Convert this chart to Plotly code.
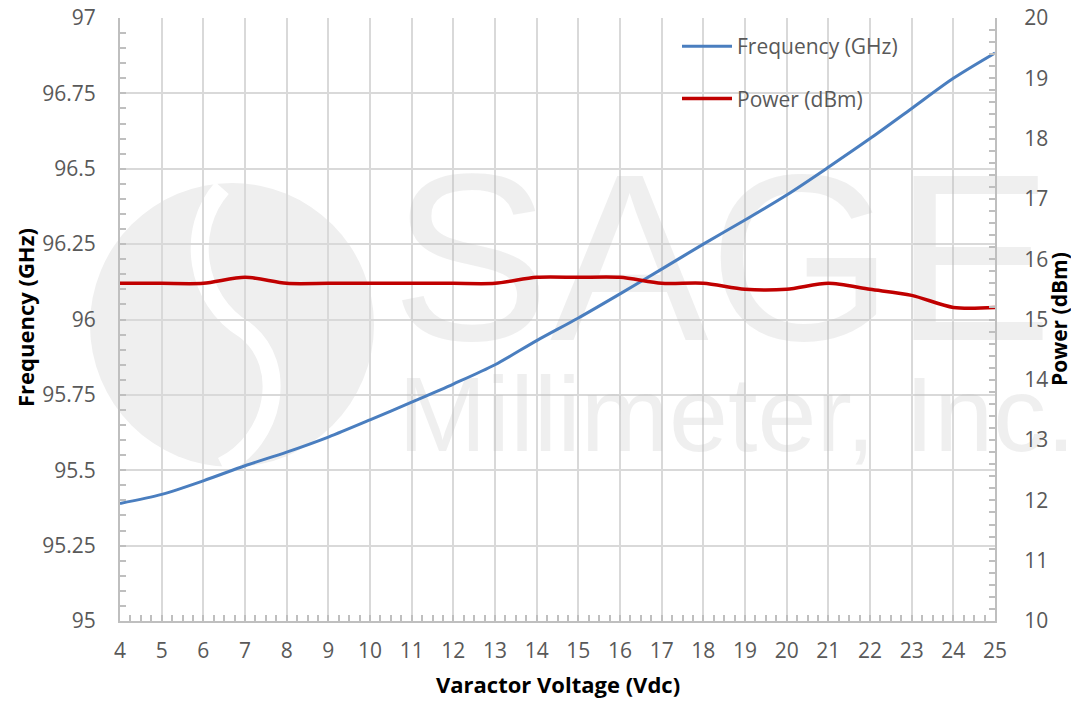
import plotly.graph_objects as go

# ---------------- data ----------------
voltage = list(range(4, 26))
frequency_ghz = [95.39, 95.42, 95.465, 95.515, 95.56, 95.61, 95.667, 95.726, 95.786, 95.85,
                 95.93, 96.005, 96.085, 96.167, 96.25, 96.33, 96.413, 96.505, 96.60, 96.70,
                 96.80, 96.884]
power_dbm = [15.6, 15.6, 15.6, 15.7, 15.6, 15.6, 15.6, 15.6, 15.6, 15.6,
             15.7, 15.7, 15.7, 15.6, 15.6, 15.5, 15.5, 15.6, 15.5, 15.4,
             15.2, 15.2]
freq_ticks = [95, 95.25, 95.5, 95.75, 96, 96.25, 96.5, 96.75, 97]
power_ticks = list(range(10, 21))

FONT = "Open Sans"
GRAY_TXT = "#595959"
GRID = "#d9d9d9"
AXIS = "#bfbfbf"
WM = "rgba(190,190,190,0.25)"

# target plot area in page pixels
PAGE_W, PAGE_H = 1079, 707
OFF = 8  # default body margin of the html page
L, R, T, B = 120, 995, 18, 621
W, H = PAGE_W - OFF, PAGE_H - 2 * OFF  # keep the page free of scrollbars

def px_to_x(px):
    return 4 + (px - L) / (R - L) * 21

def py_to_y(py):
    return 97 - (py - T) / (B - T) * 2

def paper_x(px):
    return (px - L) / (R - L)

def paper_y(py):
    return (B - py) / (B - T)

fig = go.Figure()

# watermark text (drawn under data lines)
fig.add_trace(go.Scatter(
    x=[px_to_x(722)], y=[py_to_y(280)], mode="text", text=["SAGE"],
    textfont=dict(family="Liberation Sans", size=238, color=WM),
    hoverinfo="skip", showlegend=False, cliponaxis=False))
fig.add_trace(go.Scatter(
    x=[px_to_x(737)], y=[py_to_y(424)], mode="text", text=["Millimeter, Inc."],
    textfont=dict(family="Liberation Sans", size=106, color=WM),
    hoverinfo="skip", showlegend=False, cliponaxis=False))

fig.add_trace(go.Scatter(
    x=voltage, y=frequency_ghz, name="Frequency (GHz)", mode="lines",
    line=dict(color="#4a7ebf", width=3, shape="spline", smoothing=0.8),
    legendgroup="f", yaxis="y"))
fig.add_trace(go.Scatter(
    x=voltage, y=power_dbm, name="Power (dBm)", mode="lines",
    line=dict(color="#c00000", width=3.5, shape="spline", smoothing=0.8),
    legendgroup="p", yaxis="y2"))

# watermark logo (below gridlines)
cx, cy, r = 232, 325, 142
fig.add_shape(type="circle", xref="paper", yref="paper",
              x0=paper_x(cx - r), x1=paper_x(cx + r), y0=paper_y(cy + r), y1=paper_y(cy - r),
              fillcolor="#efefef", line=dict(width=0), layer="below")
s_path = "M {} {} C {} {}, {} {}, {} {} C {} {}, {} {}, {} {}".format(
    paper_x(222), paper_y(188), paper_x(185), paper_y(230), paper_x(195), paper_y(300),
    paper_x(245), paper_y(330), paper_x(290), paper_y(365), paper_x(275), paper_y(440),
    paper_x(222), paper_y(466))
fig.add_shape(type="path", xref="paper", yref="paper", path=s_path,
              line=dict(color="white", width=18), layer="below")

annotations = [
    dict(text="<b>Varactor Voltage (Vdc)</b>", xref="paper", yref="paper",
         x=paper_x(558), y=paper_y(684), showarrow=False, xanchor="center", yanchor="middle",
         font=dict(family=FONT, size=22, color="black")),
    dict(text="<b>Frequency (GHz)</b>", xref="paper", yref="paper",
         x=paper_x(25), y=paper_y(318), showarrow=False, textangle=-90,
         xanchor="center", yanchor="middle", font=dict(family=FONT, size=22, color="black")),
    dict(text="<b>Power (dBm)</b>", xref="paper", yref="paper",
         x=paper_x(1059), y=paper_y(319), showarrow=False, textangle=-90,
         xanchor="center", yanchor="middle", font=dict(family=FONT, size=21, color="black")),
]

common_tick = dict(ticks="inside", ticklen=6, tickcolor=AXIS, tickwidth=1.5,
                   showline=True, linecolor=AXIS, linewidth=2, zeroline=False,
                   automargin=False, ticklabeloverflow="allow")

fig.update_layout(
    width=W, height=H,
    margin=dict(l=L - OFF, r=PAGE_W - R, t=T - OFF, b=(OFF + H) - B),
    plot_bgcolor="white", paper_bgcolor="white",
    font=dict(family=FONT, size=21, color=GRAY_TXT),
    showlegend=True,
    annotations=annotations,
    legend=dict(x=paper_x(677), y=paper_y(26), xanchor="left", yanchor="top",
                bgcolor="rgba(0,0,0,0)", traceorder="grouped", tracegroupgap=22,
                itemwidth=50,
                font=dict(family=FONT, size=21, color=GRAY_TXT)),
    xaxis=dict(range=[4, 25], tickmode="array", tickvals=voltage,
               showgrid=True, gridcolor=GRID, gridwidth=2,
               minor=dict(dtick=0.25, ticks="inside", ticklen=6, tickcolor=AXIS, tickwidth=1.5, showgrid=False),
               ticklabelstandoff=10, **common_tick),
    yaxis=dict(range=[95, 97], tickmode="array", tickvals=freq_ticks,
               ticktext=[("%g" % v) for v in freq_ticks],
               showgrid=True, gridcolor=GRID, gridwidth=2,
               minor=dict(dtick=0.05, ticks="inside", ticklen=6, tickcolor=AXIS, tickwidth=1.5, showgrid=False),
               ticklabelstandoff=18, **common_tick),
    yaxis2=dict(range=[10, 20], tickmode="array", tickvals=power_ticks,
                overlaying="y", side="right", showgrid=False,
                minor=dict(dtick=0.2, ticks="inside", ticklen=6, tickcolor=AXIS, tickwidth=1.5, showgrid=False),
                ticklabelstandoff=23, **common_tick),
)

fig.write_html("out.html")
